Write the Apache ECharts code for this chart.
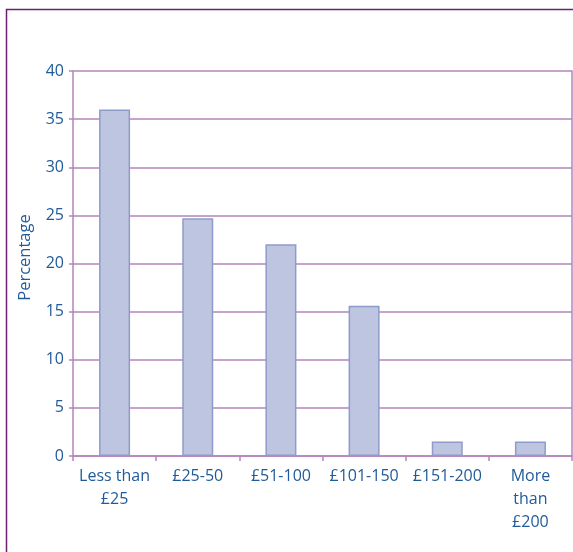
<!DOCTYPE html>
<html>
<head>
<meta charset="utf-8">
<script src="https://cdn.jsdelivr.net/npm/echarts@6/dist/echarts.min.js"></script>
<style>
html,body{margin:0;padding:0;background:#fff;}
#chart{width:573px;height:552px;}
</style>
</head>
<body>
<div id="chart"></div>
<script>
const categories = ['Less than\n£25', '£25-50', '£51-100', '£101-150', '£151-200', 'More\nthan\n£200'];
const percentages = [36, 24.7, 22, 15.6, 1.5, 1.5];
const yTicks = { min: 0, max: 40, interval: 5 };
const yTitle = 'Percentage';

const textColor = '#1f5a99';
const gridColor = '#b584bb';
const font = 'Open Sans';

const chart = echarts.init(document.getElementById('chart'), null, { renderer: 'canvas' });
chart.setOption({
  animation: false,
  backgroundColor: '#ffffff',
  graphic: [{
    type: 'rect',
    shape: { x: 6.5, y: 9.5, width: 620, height: 620 },
    style: { fill: 'none', stroke: '#6e1f72', lineWidth: 1.5 },
    z: 0
  }],
  grid: { left: 73, right: 1, top: 71, bottom: 96, containLabel: false },
  xAxis: {
    type: 'category',
    data: categories,
    axisLine: { show: true, lineStyle: { color: gridColor, width: 1.5 } },
    axisTick: { show: true, length: 5, inside: false, lineStyle: { color: gridColor, width: 1.5 } },
    axisLabel: {
      color: textColor, fontFamily: font, fontSize: 16, lineHeight: 23,
      margin: 9, interval: 0
    }
  },
  yAxis: [{
    type: 'value',
    min: yTicks.min, max: yTicks.max, interval: yTicks.interval,
    name: yTitle,
    nameLocation: 'middle',
    nameGap: 39,
    nameRotate: 90,
    nameTextStyle: { color: textColor, fontFamily: font, fontSize: 16.5, padding: [0, 0, 0, 12] },
    axisLine: { show: true, lineStyle: { color: gridColor, width: 1.5 } },
    axisTick: { show: true, length: 4, lineStyle: { color: gridColor, width: 1.5 } },
    axisLabel: { color: textColor, fontFamily: font, fontSize: 16, margin: 9 },
    splitLine: { show: true, lineStyle: { color: gridColor, width: 1.5 } }
  }, {
    type: 'value',
    position: 'right',
    min: yTicks.min, max: yTicks.max, interval: yTicks.interval,
    axisLine: { show: true, lineStyle: { color: gridColor, width: 1.5 } },
    axisTick: { show: false },
    axisLabel: { show: false },
    splitLine: { show: false }
  }],
  series: [{
    type: 'bar',
    data: percentages,
    barWidth: 31,
    itemStyle: { color: '#bec5e0', borderColor: '#8d9cc9', borderWidth: 1.5 }
  }]
});
</script>
</body>
</html>
